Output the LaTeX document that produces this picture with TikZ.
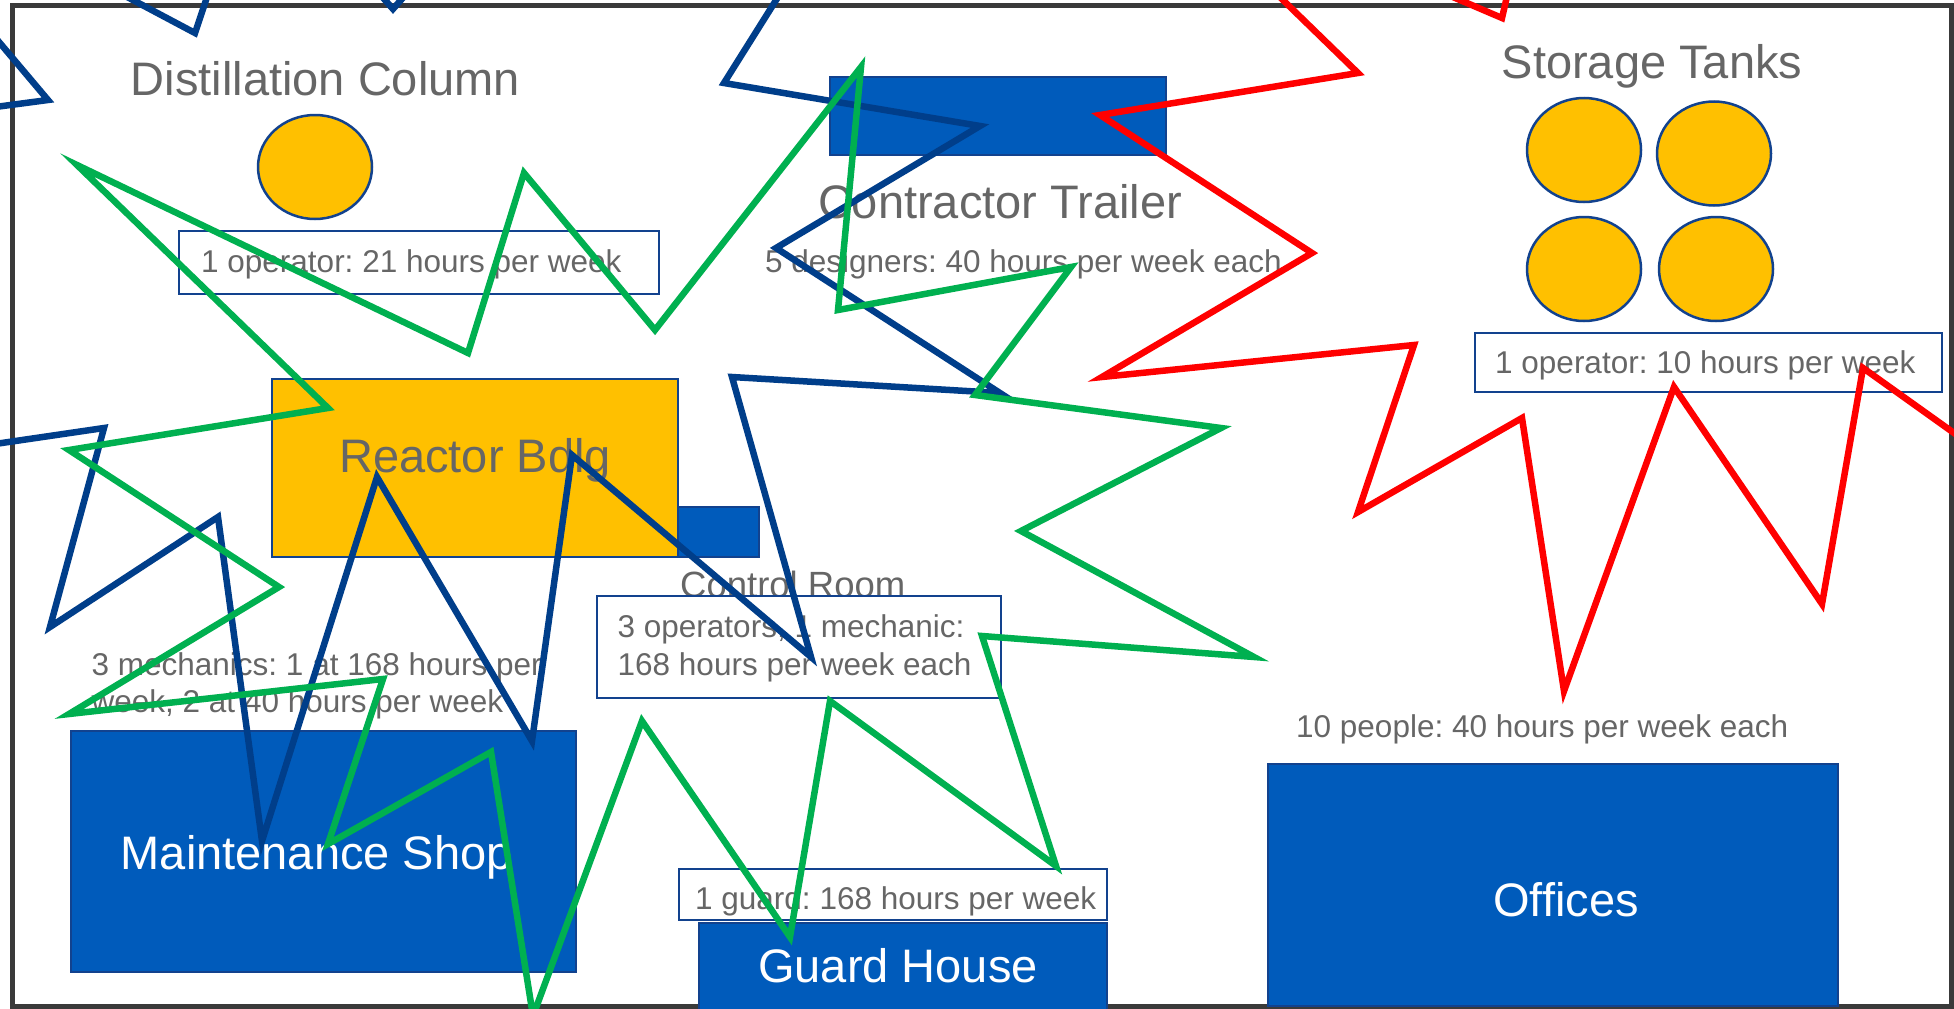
\documentclass[tikz,border=0pt]{standalone}
\usepackage{fontspec}
\setmainfont{Liberation Sans}
\frenchspacing
\usetikzlibrary{shapes.geometric}
\definecolor{plant-yellow}{RGB}{255,192,0}
\definecolor{plant-blue}{RGB}{0,91,187}
\definecolor{edge-blue}{RGB}{18,66,142}
\definecolor{txt-gray}{RGB}{102,102,102}
\definecolor{frame-gray}{RGB}{58,58,58}
\definecolor{burst-blue}{RGB}{0,62,138}
\definecolor{burst-green}{RGB}{0,176,80}
\definecolor{burst-red}{RGB}{255,0,0}

\begin{document}
\begin{tikzpicture}
    [x=1pt, y=-1pt,
    bldg/.style = {rectangle, draw=edge-blue, fill=plant-blue, line width=2.5pt, inner sep=0pt},
    reac/.style = {rectangle, draw=edge-blue, fill=plant-yellow, line width=2.5pt, inner sep=0pt},
    tag/.style = {rectangle, draw=edge-blue, fill=white, line width=2.5pt, inner sep=0pt},
    tank/.style = {ellipse, draw=edge-blue, fill=plant-yellow, line width=2.5pt, inner sep=0pt,
            minimum width=114pt, minimum height=104pt},
    hdr/.style = {inner sep=0pt, anchor=base, text=txt-gray, font=\fontsize{47}{56}\selectfont},
    info/.style = {inner sep=0pt, anchor=base west, text=txt-gray, font=\fontsize{31.5}{38}\selectfont},
    burst/.style = {line width=6.5pt},
    ]

\useasboundingbox (0,0) rectangle (1954,1009);
\clip (0,0) rectangle (1954,1009);
\fill[white] (0,0) rectangle (1954,1009);
\draw[frame-gray, line width=5pt] (12,5) rectangle (1951,1006);

\node[hdr] (dc) at (325.5,95) {Distillation Column};
\node[tank] (dccol) at (315,167) {};
\node[tag, minimum width=480pt, minimum height=63pt] (dctag) at (419,262.5) {};
\node[info] (dcinfo) at (201,272) {1 operator: 21 hours per week};

\node[bldg, minimum width=336pt, minimum height=78pt] (ct) at (998,116) {};
\node[hdr] (ctname) at (1000,218) {Contractor Trailer};
\node[info] (ctinfo) at (765,272) {5 designers: 40 hours per week each};

\node[hdr] (st) at (1652,78) {Storage Tanks};
\node[tank] (st1) at (1584,150) {};
\node[tank] (st2) at (1714,153.5) {};
\node[tank] (st3) at (1584,269) {};
\node[tank] (st4) at (1716,269) {};
\node[tag, minimum width=467pt, minimum height=59pt] (sttag) at (1708.5,362.5) {};
\node[info] (stinfo) at (1495,373) {1 operator: 10 hours per week};

\node[reac, minimum width=406pt, minimum height=178pt] (rb) at (475,468) {};
\node[hdr] (rbname) at (475,472) {Reactor Bdlg};
\node[bldg, minimum width=81pt, minimum height=50pt] (cr) at (718.5,532) {};
\node[hdr, anchor=base west, font=\fontsize{36.5}{44}\selectfont] (crname) at (680,597) {Control Room};
\node[tag, minimum width=404pt, minimum height=102pt] (crtag) at (799,647) {};
\node[info] (crinfo1) at (617.5,637) {3 operators, 1 mechanic:};
\node[info] (crinfo2) at (617.5,675) {168 hours per week each};

\node[info] (msinfo1) at (91.5,675) {3 mechanics: 1 at 168 hours per};
\node[info] (msinfo2) at (91.5,712) {week, 2 at 40 hours per week};
\node[bldg, minimum width=505pt, minimum height=241pt] (ms) at (323.5,851.5) {};
\node[hdr, anchor=base west, text=white] (msname) at (120.6,869) {Maintenance Shop};

\node[tag, minimum width=428pt, minimum height=51pt] (ghtag) at (893,894.5) {};
\node[info] (ghinfo) at (695,909) {1 guard: 168 hours per week};
\node[bldg, minimum width=408pt, minimum height=92pt] (gh) at (903,969) {};
\node[hdr, anchor=base west, text=white] (ghname) at (758,982) {Guard House};

\node[info] (ofinfo) at (1296,737) {10 people: 40 hours per week each};
\node[bldg, minimum width=570pt, minimum height=242pt] (of) at (1553,885) {};
\node[hdr, anchor=base west, text=white] (ofname) at (1493,916) {Offices};

\draw[burst, burst-blue] (104,428) -- (50,627) -- (218,517) -- (262,841) -- (377,477)
    -- (532,741) -- (572,455) -- (811,657) -- (732,377) -- (1000,393) -- (776,248)
    -- (980,126) -- (724,83) -- (800,-38) -- (620,-20) -- (470,-78) -- (393,9)
    -- (255,-146) -- (195,33) -- (-174,-163) -- (48,100) -- (-80,117) -- (-80,455) -- cycle;

\draw[burst, burst-green] (77,165) -- (468,353) -- (524,173) -- (655,330) -- (861,67)
    -- (838,310) -- (1071,267) -- (975,395) -- (1221,428) -- (1021,531) -- (1254,657)
    -- (982,636) -- (1056,866) -- (830,701) -- (790,937) -- (642,721) -- (533,1016)
    -- (491,752) -- (328,844) -- (383,679) -- (69,714) -- (279,587) -- (69,450)
    -- (328,408) -- cycle;

\draw[burst, burst-red] (1100,115) -- (1312,253) -- (1102,377) -- (1414,345) -- (1358,512)
    -- (1522,418) -- (1564,691) -- (1674,387) -- (1822,604) -- (1863,368) -- (2010,473)
    -- (2000,-100) -- (1520,-60) -- (1502,18) -- (1144,-135) -- (1358,73) -- cycle;

\end{tikzpicture}
\end{document}
